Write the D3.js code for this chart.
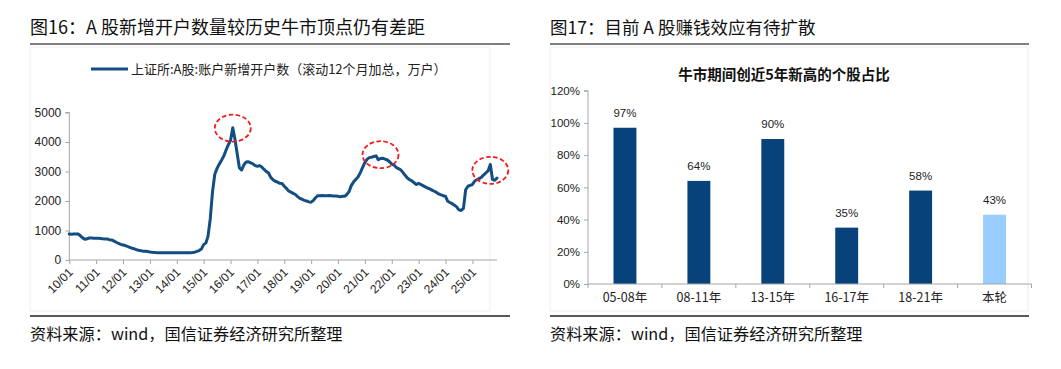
<!DOCTYPE html>
<html><head><meta charset="utf-8">
<script src="https://cdn.jsdelivr.net/npm/d3@7"></script>
<style>
html,body{margin:0;padding:0;background:#fff;}
svg{display:block;}
</style></head>
<body>
<svg id="c" width="1061" height="369"></svg>
<script>
// ---------------- DATA ----------------
// Left chart: monthly rolling-12m new accounts (万户), starting 2010-01
const accountStart = [2010, 0];
const accountValues = [
  // 2010
  880, 870, 880, 885, 880, 820, 750, 700, 720, 750, 745, 740,
  // 2011
  740, 735, 730, 720, 715, 710, 690, 680, 640, 600, 560, 530,
  // 2012
  510, 490, 460, 430, 400, 380, 350, 330, 315, 300, 295, 285,
  // 2013
  270, 260, 255, 250, 250, 250, 248, 246, 245, 245, 245, 245,
  // 2014
  245, 245, 245, 245, 245, 245, 248, 255, 265, 290, 320, 370,
  // 2015
  520, 580, 800, 1400, 2300, 2900, 3100, 3250, 3380, 3520, 3720, 3900,
  // 2016
  4050, 4480, 4100, 3600, 3120, 3050, 3230, 3320, 3330, 3290, 3260, 3200,
  // 2017
  3180, 3200, 3150, 3070, 3000, 2950, 2800, 2720, 2670, 2640, 2600, 2590,
  // 2018
  2500, 2420, 2340, 2300, 2260, 2220, 2150, 2090, 2060, 2020, 2000, 1970,
  // 2019
  1960, 2020, 2110, 2180, 2180, 2190, 2180, 2180, 2190, 2180, 2170, 2170,
  // 2020
  2160, 2140, 2160, 2160, 2220, 2330, 2530, 2650, 2740, 2820, 2970, 3140,
  // 2021
  3310, 3420, 3470, 3480, 3510, 3530, 3400, 3440, 3450, 3420, 3390, 3330,
  // 2022
  3250, 3220, 3140, 3100, 3060, 2970, 2870, 2780, 2720, 2680, 2620, 2560,
  // 2023
  2600, 2560, 2520, 2480, 2440, 2410, 2370, 2330, 2290, 2240, 2210, 2180,
  // 2024
  2160, 1990, 1950, 1910, 1860, 1800, 1700, 1680, 1750, 2380, 2500, 2530,
  // 2025
  2560, 2680, 2720, 2760, 2800, 2880, 2950, 3020, 3240, 2730, 2700, 2780
];
const leftYTicks = [0, 1000, 2000, 3000, 4000, 5000];
const leftXTickYears = [2010,2011,2012,2013,2014,2015,2016,2017,2018,2019,2020,2021,2022,2023,2024,2025];
// red dashed annotation circles: [year, month(0-based), value]
const peakMarks = [[2016, 1, 4470], [2021, 7, 3570], [2025, 8, 3040]];
const leftLegend = "上证所:A股:账户新增开户数（滚动12个月加总，万户）";
const leftTitle = "图16：A 股新增开户数量较历史牛市顶点仍有差距";

// Right chart
const barCategories = ["05-08年", "08-11年", "13-15年", "16-17年", "18-21年", "本轮"];
const barValues = [0.97, 0.64, 0.90, 0.35, 0.58, 0.43];
const barLabels = ["97%", "64%", "90%", "35%", "58%", "43%"];
const rightYTicks = [0, 0.2, 0.4, 0.6, 0.8, 1.0, 1.2];
const rightTitle = "图17：目前 A 股赚钱效应有待扩散";
const rightInnerTitle = "牛市期间创近5年新高的个股占比";
const sourceText = "资料来源：wind，国信证券经济研究所整理";

// ---------------- DRAW ----------------
const svg = d3.select("#c");
const CJK = "'Noto Sans CJK SC','Noto Sans',sans-serif";
const NUM = "'Liberation Sans',Arial,sans-serif";
const lineBlue = "#134E82";
const darkBar = "#07437A";
const lightBar = "#99CCFF";
const axisGray = "#A6A6A6";

function frame(x0, x1, title, titleSize, boxW) {
  svg.append("text").attr("x", x0).attr("y", 34)
    .attr("font-family", CJK).attr("font-size", titleSize).attr("fill", "#111")
    .text(title);
  svg.append("line").attr("x1", x0).attr("x2", x1).attr("y1", 44).attr("y2", 44)
    .attr("stroke", "#555").attr("stroke-width", 1.5);
  svg.append("rect").attr("x", x0).attr("y", 47).attr("width", boxW).attr("height", 264)
    .attr("fill", "none").attr("stroke", "#efefef").attr("stroke-width", 1);
  svg.append("line").attr("x1", x0).attr("x2", x1).attr("y1", 316).attr("y2", 316)
    .attr("stroke", "#222").attr("stroke-width", 1.3);
  svg.append("text").attr("x", x0).attr("y", 340)
    .attr("font-family", CJK).attr("font-size", 16.2).attr("fill", "#111")
    .text(sourceText);
}
frame(30, 510, leftTitle, 18, 460);
frame(550, 1029, rightTitle, 17.5, 478);

// ---------- Left chart ----------
const accData = accountValues.map((v, i) => ({
  date: new Date(accountStart[0], accountStart[1] + i, 1), value: v
}));
const xL = d3.scaleTime()
  .domain([new Date(2010, 0, 1), accData[accData.length - 1].date])
  .range([69.3, 497]);
const yL = d3.scaleLinear().domain([0, 5000]).range([260, 112.5]);

const gL = svg.append("g");
// y axis
const yAxisL = d3.axisLeft(yL).tickValues(leftYTicks).tickSize(4).tickPadding(4).tickFormat(d3.format("d"));
const gyL = gL.append("g").attr("transform", `translate(${xL.range()[0]},0)`).call(yAxisL);
gyL.select(".domain").attr("stroke", axisGray).attr("d", `M-4,${yL(5000)}H0V${yL(0)}`);
gyL.selectAll(".tick line").attr("stroke", axisGray);
gyL.selectAll(".tick text").attr("font-family", NUM).attr("font-size", 12).attr("fill", "#222");

// x axis
const xAxisL = d3.axisBottom(xL)
  .tickValues(leftXTickYears.map(y => new Date(y, 0, 1)))
  .tickSize(4).tickFormat(d3.timeFormat("%y/%m"));
const gxL = gL.append("g").attr("transform", `translate(0,${yL(0)})`).call(xAxisL);
gxL.select(".domain").attr("stroke", axisGray).attr("d", `M${xL.range()[0]},0H${xL.range()[1]}`);
gxL.selectAll(".tick line").attr("stroke", axisGray);
gxL.selectAll(".tick text")
  .attr("font-family", NUM).attr("font-size", 12).attr("fill", "#222")
  .attr("text-anchor", "end")
  .attr("transform", "translate(1,10) rotate(-45)")
  .attr("y", 0).attr("dy", "0.35em").attr("dx", 0);

// line
const lineGen = d3.line().x(d => xL(d.date)).y(d => yL(d.value)).curve(d3.curveLinear);
gL.append("path").datum(accData).attr("d", lineGen)
  .attr("fill", "none").attr("stroke", lineBlue).attr("stroke-width", 3)
  .attr("stroke-linejoin", "round").attr("stroke-linecap", "round");

// peak annotations
gL.selectAll("ellipse.peak").data(peakMarks).enter().append("ellipse")
  .attr("class", "peak")
  .attr("cx", d => xL(new Date(d[0], d[1], 1)))
  .attr("cy", d => yL(d[2]))
  .attr("rx", 18).attr("ry", 13.5)
  .attr("fill", "none").attr("stroke", "#EE1C1C").attr("stroke-width", 1.8)
  .attr("stroke-dasharray", "4.5,2.5");

// legend
gL.append("line").attr("x1", 91).attr("x2", 128).attr("y1", 69).attr("y2", 69)
  .attr("stroke", lineBlue).attr("stroke-width", 3);
gL.append("text").attr("x", 131).attr("y", 73.5)
  .attr("font-family", CJK).attr("font-size", 13).attr("fill", "#222")
  .text(leftLegend);

// ---------- Right chart ----------
const xR = d3.scaleBand().domain(barCategories).range([588, 1031.5]).paddingInner(0.69).paddingOuter(0.345);
const yR = d3.scaleLinear().domain([0, 1.2]).range([284, 90.7]);
const gR = svg.append("g");

gR.append("text").attr("x", 784).attr("y", 80)
  .attr("text-anchor", "middle").attr("font-family", CJK).attr("font-size", 14.5)
  .attr("font-weight", "bold").attr("fill", "#111").text(rightInnerTitle);

const yAxisR = d3.axisLeft(yR).tickValues(rightYTicks).tickSize(4).tickPadding(4).tickFormat(d3.format(".0%"));
const gyR = gR.append("g").attr("transform", "translate(588,0)").call(yAxisR);
gyR.select(".domain").attr("stroke", axisGray).attr("d", `M-4,${yR(1.2)}H0V${yR(0)}`);
gyR.selectAll(".tick line").attr("stroke", axisGray);
gyR.selectAll(".tick text").attr("font-family", NUM).attr("font-size", 11.5).attr("fill", "#222");

// bars
gR.selectAll("rect.bar").data(barValues).enter().append("rect")
  .attr("class", "bar")
  .attr("x", (d, i) => xR(barCategories[i]))
  .attr("width", xR.bandwidth())
  .attr("y", d => yR(d))
  .attr("height", d => yR(0) - yR(d))
  .attr("fill", (d, i) => i === barValues.length - 1 ? lightBar : darkBar);

gR.selectAll("text.vlab").data(barValues).enter().append("text")
  .attr("class", "vlab")
  .attr("x", (d, i) => xR(barCategories[i]) + xR.bandwidth() / 2)
  .attr("y", d => yR(d) - 11)
  .attr("text-anchor", "middle").attr("font-family", NUM).attr("font-size", 11.5).attr("fill", "#222")
  .text((d, i) => barLabels[i]);

// x axis (category boundaries as ticks)
const xAxisR = d3.axisBottom(xR).tickSize(0).tickPadding(9);
const gxR = gR.append("g").attr("transform", `translate(0,${yR(0)})`).call(xAxisR);
gxR.select(".domain").attr("stroke", axisGray).attr("d", "M588,0H1031.5");
gxR.selectAll(".tick text").attr("font-family", CJK).attr("font-size", 12.5).attr("fill", "#222");
const bounds = d3.range(barCategories.length + 1).map(i => 588 + i * (1031.5 - 588) / barCategories.length);
gxR.selectAll("line.bnd").data(bounds).enter().append("line")
  .attr("class", "bnd").attr("x1", d => d).attr("x2", d => d).attr("y1", 0).attr("y2", 4)
  .attr("stroke", axisGray);
</script>
</body></html>
